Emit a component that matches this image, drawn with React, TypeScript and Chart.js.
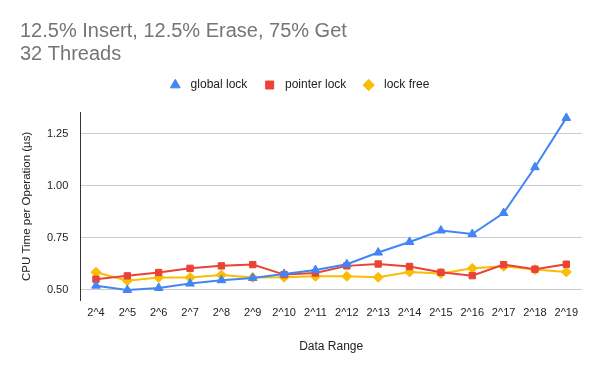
import React, { useEffect, useRef } from "react";
import { Chart, registerables } from "chart.js";

Chart.register(...registerables);

const categories = ["2^4", "2^5", "2^6", "2^7", "2^8", "2^9", "2^10", "2^11", "2^12", "2^13", "2^14", "2^15", "2^16", "2^17", "2^18", "2^19"];
const globalLock = [0.519, 0.498, 0.508, 0.529, 0.545, 0.556, 0.575, 0.594, 0.622, 0.678, 0.729, 0.784, 0.767, 0.868, 1.088, 1.325];
const pointerLock = [0.55, 0.566, 0.582, 0.602, 0.614, 0.62, 0.572, 0.58, 0.614, 0.623, 0.611, 0.583, 0.567, 0.62, 0.598, 0.622];
const lockFree = [0.583, 0.543, 0.558, 0.558, 0.57, 0.558, 0.559, 0.564, 0.564, 0.559, 0.585, 0.577, 0.602, 0.612, 0.596, 0.585];
const yTicks = [0.5, 0.75, 1.0, 1.25];
const titleLines = ["12.5% Insert, 12.5% Erase, 75% Get", "32 Threads"];

const FONT = "'Liberation Sans', Arial, sans-serif";

export default function App() {
  const ref = useRef<HTMLCanvasElement | null>(null);
  useEffect(() => {
    if (!ref.current) return;
    Chart.defaults.font.family = FONT;
    const defaultLabels = Chart.defaults.plugins.legend.labels.generateLabels;
    const chart = new Chart(ref.current, {
      type: "line",
      data: {
        labels: categories,
        datasets: [
          {
            label: "global lock",
            data: globalLock,
            borderColor: "#4285F4",
            backgroundColor: "#4285F4",
            borderWidth: 2,
            pointStyle: "triangle",
            pointRadius: 5,
            pointBorderWidth: 1,
            tension: 0,
          },
          {
            label: "pointer lock",
            data: pointerLock,
            borderColor: "#EA4335",
            backgroundColor: "#EA4335",
            borderWidth: 2,
            pointStyle: "rect",
            pointRadius: 4.5,
            pointBorderWidth: 1,
            tension: 0,
          },
          {
            label: "lock free",
            data: lockFree,
            borderColor: "#FBBC04",
            backgroundColor: "#FBBC04",
            borderWidth: 2,
            pointStyle: "rectRot",
            pointRadius: 5,
            pointBorderWidth: 1,
            tension: 0,
          },
        ],
      },
      options: {
        responsive: false,
        animation: false,
        layout: { padding: { left: 20, right: 18, top: 0, bottom: 0 } },
        plugins: {
          title: {
            display: true,
            text: titleLines,
            align: "start",
            color: "#757575",
            font: { family: FONT, size: 20, weight: "normal", lineHeight: 1.15 },
            padding: { top: 20, bottom: 0 },
          },
          subtitle: {
            display: true,
            text: " ",
            weight: 500,
            font: { size: 1, lineHeight: 1 },
            padding: { top: 0, bottom: 10.7 },
          },
          legend: {
            display: true,
            position: "top",
            labels: {
              usePointStyle: true,
              boxWidth: 12,
              boxHeight: 8,
              padding: 13,
              color: "#222222",
              font: { family: FONT, size: 12 },
              generateLabels: (c: any) =>
                defaultLabels(c).map((l: any) => ({ ...l, text: " " + l.text + " " })),
            },
          },
          tooltip: { enabled: false },
        },
        scales: {
          x: {
            offset: true,
            grid: { display: false, drawTicks: false },
            border: { display: false },
            ticks: { color: "#222222", font: { size: 11 }, padding: 6.5, maxRotation: 0, autoSkip: false },
            title: {
              display: true,
              text: "Data Range",
              color: "#222222",
              font: { size: 12 },
              padding: { top: 0, bottom: 17.5 },
            },
            afterFit: (scale: any) => {
              scale.height = 71;
            },
          },
          y: {
            min: 0.45,
            max: 1.35,
            grid: { color: "#cccccc", drawTicks: false },
            border: { display: true, color: "#333333", width: 1 },
            ticks: {
              color: "#222222",
              font: { size: 11 },
              padding: 12,
              callback: (v: any) => Number(v).toFixed(2),
            },
            afterBuildTicks: (scale: any) => {
              scale.ticks = yTicks.map((v) => ({ value: v }));
            },
            title: {
              display: true,
              text: "CPU Time per Operation (µs)",
              color: "#222222",
              font: { size: 11.5 },
              padding: { top: 0, bottom: 0 },
            },
            afterFit: (scale: any) => {
              scale.width = 60.3;
            },
          },
        },
      },
    });
    return () => chart.destroy();
  }, []);
  return (
    <div style={{ position: "absolute", left: 0, top: 0, width: 600, height: 371, background: "#fff" }}>
      <canvas ref={ref} width={600} height={371} />
    </div>
  );
}
